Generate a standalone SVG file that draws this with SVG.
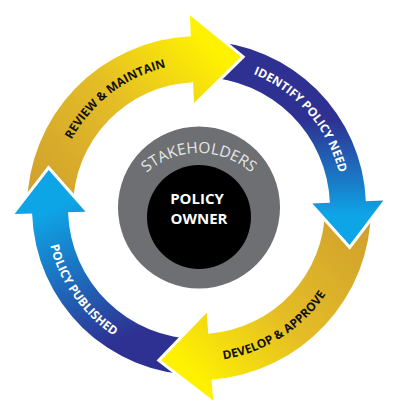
<svg xmlns="http://www.w3.org/2000/svg" xmlns:xlink="http://www.w3.org/1999/xlink" width="400" height="418" viewBox="0 0 400 418">
  <style>
    .lbl { font-family: "Open Sans", "Liberation Sans", sans-serif; font-weight: 700; font-size: 12px; }
    .dark { fill: #111111; }
    .light { fill: #ffffff; }
    .gap { fill: #000; stroke: #000; stroke-width: 6; stroke-linejoin: miter; }
  </style>
  <defs>
    <linearGradient id="gY1" gradientUnits="userSpaceOnUse" x1="40" y1="210" x2="215" y2="50">
      <stop offset="0" stop-color="#cf9f2e"/>
      <stop offset="0.55" stop-color="#e4bd26"/>
      <stop offset="1" stop-color="#fff200"/>
    </linearGradient>
    <linearGradient id="gY2" gradientUnits="userSpaceOnUse" x1="358" y1="206" x2="183" y2="366">
      <stop offset="0" stop-color="#cf9f2e"/>
      <stop offset="0.55" stop-color="#e4bd26"/>
      <stop offset="1" stop-color="#fff200"/>
    </linearGradient>
    <linearGradient id="gB1" gradientUnits="userSpaceOnUse" x1="0" y1="120" x2="0" y2="215">
      <stop offset="0" stop-color="#2e3192"/>
      <stop offset="1" stop-color="#0ea5e6"/>
    </linearGradient>
    <linearGradient id="gB2" gradientUnits="userSpaceOnUse" x1="110" y1="345" x2="50" y2="210">
      <stop offset="0" stop-color="#2e3192"/>
      <stop offset="1" stop-color="#0ea5e6"/>
    </linearGradient>
    <polygon id="h1" points="189.91,15.21 240.93,56.86 194.05,103.12"/>
    <polygon id="h2" points="383.35,200.60 349.61,244.99 312.41,203.45"/>
    <polygon id="h3" points="213.14,400.48 161.04,360.19 206.69,312.72"/>
    <polygon id="h4" points="14.60,214.12 48.65,169.96 85.56,211.76"/>
    <mask id="m1" maskUnits="userSpaceOnUse" x="0" y="0" width="400" height="418">
      <rect width="400" height="418" fill="#fff"/>
      <use href="#h4" class="gap"/>
    </mask>
    <mask id="m2" maskUnits="userSpaceOnUse" x="0" y="0" width="400" height="418">
      <rect width="400" height="418" fill="#fff"/>
      <use href="#h1" class="gap"/>
    </mask>
    <mask id="m3" maskUnits="userSpaceOnUse" x="0" y="0" width="400" height="418">
      <rect width="400" height="418" fill="#fff"/>
      <use href="#h2" class="gap"/>
    </mask>
    <mask id="m4" maskUnits="userSpaceOnUse" x="0" y="0" width="400" height="418">
      <rect width="400" height="418" fill="#fff"/>
      <use href="#h3" class="gap"/>
    </mask>
    <path id="t1" d="M55.74,226.86 A144.5,144.5 0 0 1 254.30,74.50"/>
    <path id="t2" d="M171.43,66.15 A144.5,144.5 0 0 1 335.63,255.04"/>
    <path id="t3" d="M128.12,344.16 A153.5,153.5 0 0 0 352.35,201.30"/>
    <path id="t4" d="M59.60,143.74 A153.5,153.5 0 0 0 213.05,360.86"/>
    <path id="tS" d="M122.69,211.55 A79,79 0 0 1 275.31,211.55"/>
  </defs>

  <rect width="400" height="418" fill="#ffffff"/>

  <g id="connectors">
    <g id="review-maintain">
      <path mask="url(#m1)" fill="url(#gY1)" d="M27.00,206.80 A172,172 0 0 1 190.90,36.19 L189.91,15.21 L240.93,56.86 L194.05,103.12 L193.06,82.14 A126,126 0 0 0 73.00,207.12 Z"/>
      <text class="lbl dark"><textPath href="#t1" startOffset="50%" text-anchor="middle">REVIEW &amp; MAINTAIN</textPath></text>
    </g>
    <g id="identify-policy-need">
      <path mask="url(#m2)" fill="url(#gB1)" d="M204.54,41.09 A167,167 0 0 1 365.86,201.30 L383.35,200.60 L349.61,244.99 L312.41,203.45 L329.89,202.74 A131,131 0 0 0 203.34,77.07 Z"/>
      <text class="lbl light"><textPath href="#t2" startOffset="50%" text-anchor="middle">IDENTIFY POLICY NEED</textPath></text>
    </g>
    <g id="develop-approve">
      <path mask="url(#m3)" fill="url(#gY2)" d="M371,208 A172,172 0 0 1 211.60,379.54 L213.14,400.48 L161.04,360.19 L206.69,312.72 L208.23,333.66 A126,126 0 0 0 325,208 Z"/>
      <text class="lbl dark"><textPath href="#t3" startOffset="50%" text-anchor="middle">DEVELOP &amp; APPROVE</textPath></text>
    </g>
    <g id="policy-published">
      <path mask="url(#m4)" fill="url(#gB2)" d="M197.83,375.00 A167,167 0 0 1 32.09,213.54 L14.60,214.12 L48.65,169.96 L85.56,211.76 L68.07,212.34 A131,131 0 0 0 198.09,339.00 Z"/>
      <text class="lbl light"><textPath href="#t4" startOffset="50%" text-anchor="middle">POLICY PUBLISHED</textPath></text>
    </g>
  </g>

  <g id="stakeholders">
    <circle cx="199" cy="207.5" r="81" fill="#6d6f72"/>
    <text font-family="'Open Sans', 'Liberation Sans', sans-serif" font-size="15.5" fill="#e6e7e8"><textPath href="#tS" startOffset="50%" text-anchor="middle">STAKEHOLDERS</textPath></text>
  </g>

  <g id="policy-owner">
    <circle cx="199" cy="217" r="52" fill="#000000"/>
    <text font-family="'Open Sans', 'Liberation Sans', sans-serif" font-weight="700" font-size="15" fill="#ffffff" text-anchor="middle">
      <tspan x="199" y="204">POLICY</tspan>
      <tspan x="199" y="223.5">OWNER</tspan>
    </text>
  </g>
</svg>
